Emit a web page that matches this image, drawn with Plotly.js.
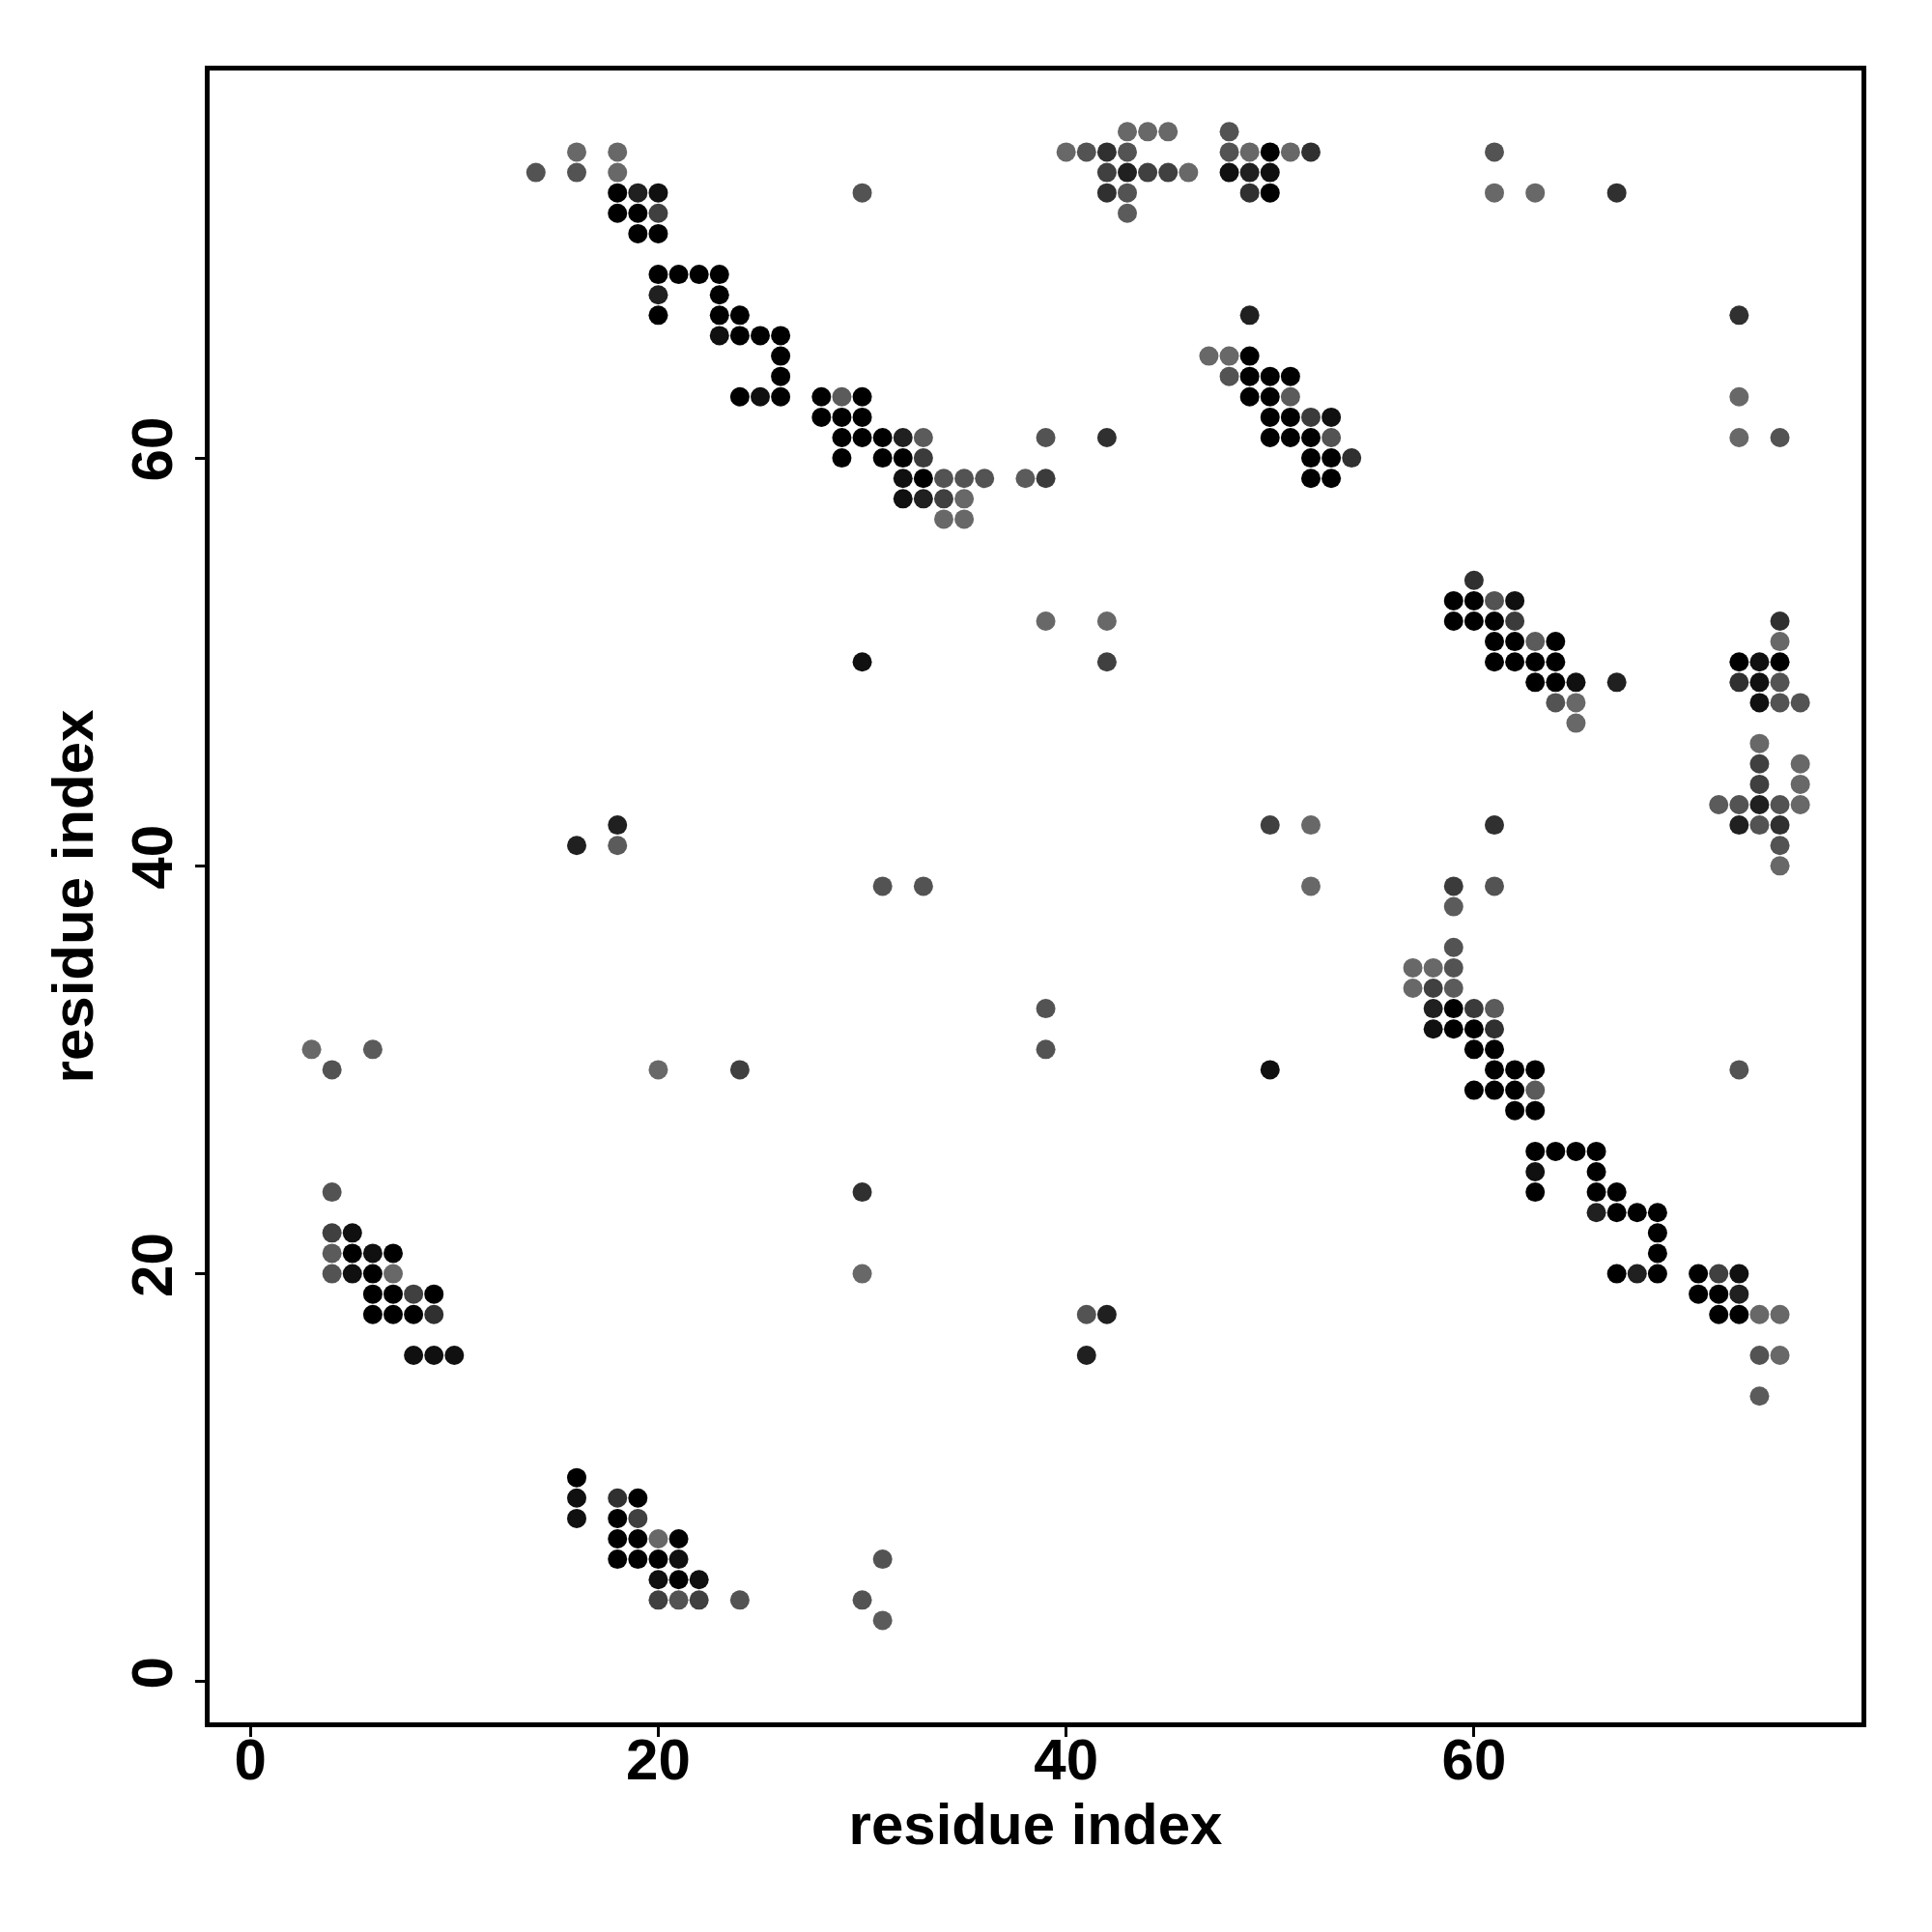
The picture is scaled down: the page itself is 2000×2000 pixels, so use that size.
<!DOCTYPE html>
<html>
<head>
<meta charset="utf-8">
<script src="https://cdn.plot.ly/plotly-3.0.1.min.js"></script>
<style>
  html, body { margin: 0; padding: 0; background: #ffffff; }
  #chart { width: 2000px; height: 2000px; }
</style>
</head>
<body>
<div id="chart"></div>
<script>
// Contact map: residue i (x), residue j (y), contact strength p (1 = black, 0 = light grey)
const residueX = [
  // top-left strand pairing
  14,16,16,18,18,18,19,20,18,19,20,19,20,20,21,22,23,20,23,20,23,24,23,24,25,26,26,26,24,25,26,
  // 28-39 / 57-63
  28,29,30,28,29,30,29,30,31,32,33,29,31,32,33,32,33,34,35,36,38,39,32,33,34,35,34,35,39,42,
  // top middle
  43,44,45,48,40,41,42,43,48,49,50,51,52,42,43,44,45,46,48,49,50,30,42,43,49,50,43,
  61,61,63,67,
  // 47-54 / 59-67
  49,47,48,49,48,49,50,51,49,50,51,50,51,52,53,50,51,52,53,52,53,54,52,53,
  73,73,73,75,
  // 59-67 / 47-54
  60,59,60,61,62,59,60,61,62,61,62,63,64,61,62,63,64,63,64,65,67,64,65,65,
  // 72-76 / 40-52
  75,75,73,74,75,73,74,75,74,75,76,74,74,76,74,76,72,73,74,75,76,73,74,75,75,75,
  // scattered middle
  30,42,39,42,16,18,18,50,52,31,33,52,61,59,61,59,39,39,3,6,4,20,24,50,73,
  // 57-69 / 20-36
  59,57,58,59,57,58,59,58,59,60,61,58,59,60,61,60,61,61,62,63,60,61,62,63,62,63,
  63,64,65,66,63,66,63,66,67,66,67,68,69,69,69,67,68,69,
  // 71-75 / 14-20
  71,72,73,71,72,73,72,73,74,75,74,75,74,
  // lower middle
  30,30,41,42,41,
  // 3-10 / 16-24
  4,4,5,4,5,6,7,4,5,6,7,6,7,8,9,6,7,8,9,8,9,10,
  // 16-24 / 4-10
  16,16,18,19,16,18,19,18,19,20,21,18,19,20,21,20,21,22,20,21,22,24,31,30,31
];
const residueY = [
  74,75,74,75,74,73,73,73,72,72,72,71,71,69,69,69,69,68,68,67,67,67,66,66,66,66,65,64,63,63,63,
  63,63,63,62,62,62,61,61,61,61,61,60,60,60,60,59,59,59,59,59,59,59,58,58,58,58,57,57,61,61,
  76,76,76,76,75,75,75,75,75,75,75,75,75,74,74,74,74,74,74,74,74,73,73,73,73,73,72,
  75,73,73,73,
  67,65,65,65,64,64,64,64,63,63,63,62,62,62,62,61,61,61,61,60,60,60,59,59,
  67,63,61,61,
  54,53,53,53,53,52,52,52,52,51,51,51,51,50,50,50,50,49,49,49,49,48,48,47,
  52,51,50,50,50,49,49,49,48,48,48,46,45,45,44,44,43,43,43,43,43,42,42,42,41,40,
  50,50,52,52,41,42,41,42,42,39,39,39,42,39,39,38,33,31,31,31,30,30,30,30,30,
  36,35,35,35,34,34,34,33,33,33,33,32,32,32,32,31,31,30,30,30,29,29,29,29,28,28,
  26,26,26,26,25,25,24,24,24,23,23,23,23,22,21,20,20,20,
  20,20,20,19,19,19,18,18,18,18,16,16,14,
  24,20,18,18,16,
  24,22,22,21,21,21,21,20,20,20,20,19,19,19,19,18,18,18,18,16,16,16,
  10,9,9,9,8,8,8,7,7,7,7,6,6,6,6,5,5,5,4,4,4,4,6,4,3
];
const contactP = [
  0.22,0.03,0.22,0.03,0.03,1,0.7,0.85,1,1,0.4,1,1,1,1,1,1,0.7,1,1,1,1,0.85,1,1,1,1,1,1,0.85,1,
  1,0.15,1,1,1,1,1,1,1,0.7,0.15,1,1,1,0.45,0.85,1,0.22,0.22,0.22,0.15,0.45,0.85,0.7,0.4,0.03,0.03,0.03,0.22,0.55,
  0.03,0.03,0.03,0.22,0.03,0.22,0.55,0.22,0.22,0.03,1,0.03,0.55,0.4,0.7,0.4,0.4,0.03,0.85,0.7,0.85,0.22,0.55,0.22,0.55,1,0.15,
  0.22,0.03,0.03,0.55,
  0.7,0.03,0.03,1,0.22,1,1,1,1,1,0.15,1,1,0.45,0.85,1,1,1,0.22,1,1,0.55,1,1,
  0.55,0.03,0.03,0.22,
  0.55,1,1,0.22,0.85,1,1,1,0.45,1,1,0.15,1,1,1,1,1,1,1,0.85,0.7,0.22,0.03,0.03,
  0.55,0.03,1,0.85,1,0.55,0.85,0.22,0.85,0.22,0.22,0.03,0.4,0.03,0.4,0.03,0.15,0.22,0.7,0.22,0.03,0.7,0.22,0.55,0.22,0.03,
  0.85,0.4,0.03,0.03,0.7,0.7,0.15,0.4,0.03,0.22,0.22,0.03,0.55,0.45,0.22,0.15,0.22,0.22,0.03,0.15,0.22,0.03,0.4,0.85,0.22,
  0.22,0.03,0.03,0.22,0.03,0.4,0.15,0.7,1,0.45,0.15,0.85,1,1,0.55,1,1,1,1,1,1,1,1,0.15,1,1,
  1,1,1,1,0.85,1,1,1,1,0.7,1,1,1,1,1,1,0.7,1,
  1,0.4,0.85,1,1,0.7,1,1,0.03,0.03,0.22,0.03,0.15,
  0.55,0.03,0.22,0.7,0.7,
  0.22,0.4,0.85,0.15,1,0.85,1,0.22,0.85,1,0.03,1,1,0.4,1,1,1,1,0.55,0.85,0.85,0.85,
  1,0.85,0.55,1,0.85,1,0.4,1,1,0.03,1,1,1,1,0.85,0.85,1,0.85,0.4,0.22,0.4,0.22,0.22,0.22,0.15
];

const xTicks = [0, 20, 40, 60];
const yTicks = [0, 20, 40, 60];
const axisLabel = 'residue index';

const fontFamily = 'Liberation Sans, Arial, Helvetica, sans-serif';

const trace = {
  type: 'scatter',
  mode: 'markers',
  x: residueX,
  y: residueY,
  marker: {
    size: 20,
    color: contactP,
    colorscale: [[0, '#6b6b6b'], [1, '#000000']],
    cmin: 0,
    cmax: 1,
    showscale: false,
    line: { width: 0 }
  },
  hoverinfo: 'x+y'
};

const axisCommon = {
  showgrid: false,
  zeroline: false,
  showline: true,
  linecolor: '#000000',
  linewidth: 5,
  mirror: true,
  ticks: 'outside',
  ticklen: 10,
  tickwidth: 3,
  tickcolor: '#000000',
  tickfont: { family: fontFamily, size: 60, color: '#000000', weight: 'bold' }
};

const layout = {
  width: 2000,
  height: 2000,
  margin: { l: 217, r: 73, t: 73, b: 217, pad: 0 },
  paper_bgcolor: '#ffffff',
  plot_bgcolor: '#ffffff',
  showlegend: false,
  xaxis: Object.assign({}, axisCommon, {
    range: [-2, 79],
    tickvals: xTicks,
    ticktext: xTicks.map(String),
    ticklabelstandoff: -28,
    title: { text: axisLabel, font: { family: fontFamily, size: 60, color: '#000000', weight: 'bold' }, standoff: 2 }
  }),
  yaxis: Object.assign({}, axisCommon, {
    range: [-2, 79],
    tickvals: yTicks,
    ticktext: yTicks.map(String),
    tickangle: -90,
    title: { text: axisLabel, font: { family: fontFamily, size: 60, color: '#000000', weight: 'bold' }, standoff: 10 }
  })
};

Plotly.newPlot('chart', [trace], layout, { displayModeBar: false, staticPlot: true });
</script>
</body>
</html>
